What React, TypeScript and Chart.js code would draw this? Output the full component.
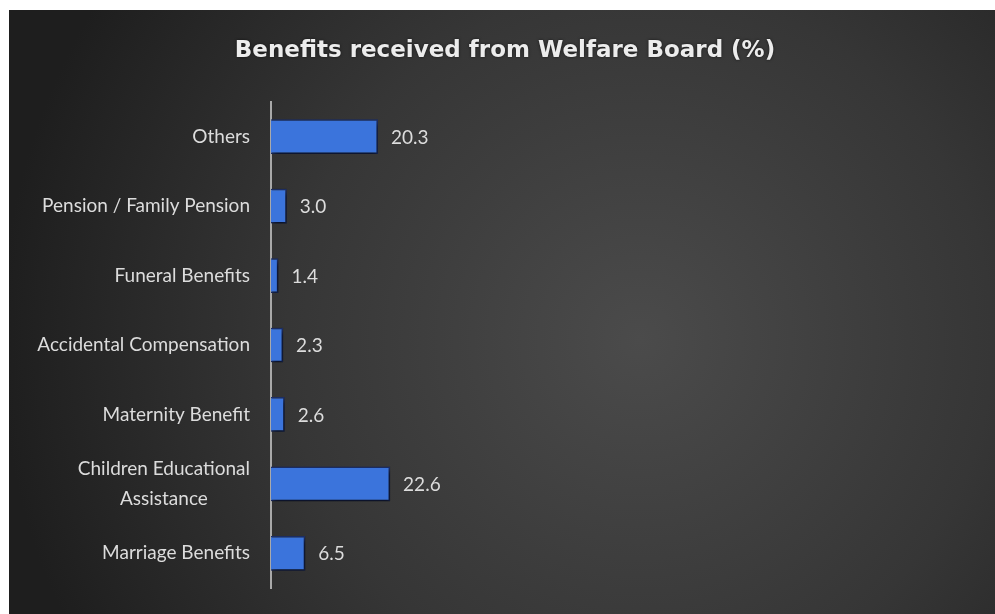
import React, { useEffect, useRef } from "react";
import { Chart, registerables } from "chart.js";

Chart.register(...registerables);

const TITLE = "Benefits received from Welfare Board (%)";
const CATEGORIES: (string | string[])[] = [
  "Others",
  "Pension / Family Pension",
  "Funeral Benefits",
  "Accidental Compensation",
  "Maternity Benefit",
  ["Children Educational", "Assistance"],
  "Marriage Benefits",
];
const VALUES = [20.3, 3.0, 1.4, 2.3, 2.6, 22.6, 6.5];
const X_MIN = 0;
const X_MAX = 100;

const LABEL_FONT = '19px Lato, "Open Sans", sans-serif';
const TITLE_FONT = 'bold 23px "DejaVu Sans", sans-serif';

const backgroundPlugin = {
  id: "bg",
  beforeDraw(chart: any) {
    const { ctx, width, height } = chart;
    ctx.save();
    ctx.fillStyle = "#ffffff";
    ctx.fillRect(0, 0, width, height);
    const g = ctx.createRadialGradient(640, 340, 0, 640, 340, 640);
    g.addColorStop(0, "#4b4b4b");
    g.addColorStop(0.55, "#363636");
    g.addColorStop(1, "#1e1e1e");
    ctx.fillStyle = g;
    ctx.fillRect(9, 10, width - 9, height - 10);
    ctx.restore();
  },
  afterDraw(chart: any) {
    const { ctx } = chart;
    ctx.save();
    ctx.font = TITLE_FONT;
    ctx.fillStyle = "#ececec";
    ctx.textAlign = "center";
    ctx.textBaseline = "middle";
    ctx.shadowColor = "rgba(0,0,0,0.6)";
    ctx.shadowBlur = 3;
    ctx.fillText(TITLE, 505, 51);
    ctx.restore();
  },
};

const labelsPlugin = {
  id: "labels",
  afterDatasetsDraw(chart: any) {
    const { ctx } = chart;
    const yScale = chart.scales.y;
    ctx.save();
    ctx.font = LABEL_FONT;
    ctx.fillStyle = "#dcdcdc";
    ctx.textBaseline = "middle";
    const rightX = yScale.right - 21;
    CATEGORIES.forEach((lab, i) => {
      const lines = Array.isArray(lab) ? lab : [lab];
      const maxW = Math.max(...lines.map((l) => ctx.measureText(l).width));
      const cx = rightX - maxW / 2;
      const y = yScale.getPixelForValue(i);
      ctx.textAlign = "center";
      lines.forEach((l, j) => {
        ctx.fillText(l, cx, y + (j - (lines.length - 1) / 2) * 30);
      });
    });
    const meta = chart.getDatasetMeta(0);
    ctx.textAlign = "left";
    meta.data.forEach((bar: any, i: number) => {
      ctx.fillText(VALUES[i].toFixed(1), bar.x + 13, bar.y + 1);
    });
    ctx.restore();
  },
};

const shadowPlugin = {
  id: "barShadow",
  beforeDatasetsDraw(chart: any) {
    const { ctx } = chart;
    ctx.save();
    ctx.shadowColor = "rgba(0,0,0,0.7)";
    ctx.shadowBlur = 5;
    ctx.shadowOffsetX = 2;
    ctx.shadowOffsetY = 3;
  },
  afterDatasetsDraw(chart: any) {
    chart.ctx.restore();
  },
};

export default function App() {
  const ref = useRef<HTMLCanvasElement>(null);
  useEffect(() => {
    if (!ref.current) return;
    const chart = new Chart(ref.current, {
      type: "bar",
      data: {
        labels: CATEGORIES as any,
        datasets: [
          {
            data: VALUES,
            backgroundColor: "#3b74dc",
            borderColor: "#1d2f68",
            borderWidth: 1.5,
            barPercentage: 0.5,
            categoryPercentage: 1,
          },
        ],
      },
      options: {
        indexAxis: "y",
        animation: false,
        responsive: false,
        layout: { padding: { left: 0, right: 197, top: 102, bottom: 26 } },
        plugins: {
          legend: { display: false },
          tooltip: { enabled: false },
          title: { display: false },
        },
        scales: {
          x: { display: false, min: X_MIN, max: X_MAX },
          y: {
            grid: { display: false, drawTicks: false },
            border: { display: true, color: "#a9a9a9", width: 2 },
            ticks: { display: false },
            afterFit: (scale: any) => {
              scale.width = 271;
            },
          },
        },
      },
      plugins: [backgroundPlugin, shadowPlugin, labelsPlugin],
    });
    return () => chart.destroy();
  }, []);
  return (
    <div style={{ position: "fixed", left: 0, top: 0, width: 995, height: 614 }}>
      <canvas ref={ref} width={995} height={614} />
    </div>
  );
}
